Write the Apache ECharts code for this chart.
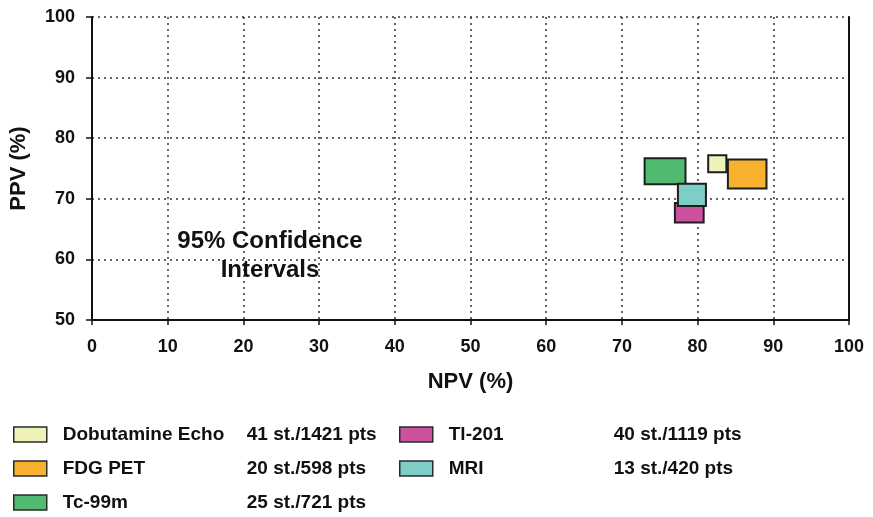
<!DOCTYPE html>
<html>
<head>
<meta charset="utf-8">
<title>PPV vs NPV – 95% Confidence Intervals</title>
<script src="https://cdn.jsdelivr.net/npm/echarts@6/dist/echarts.min.js"></script>
<style>
  html, body { margin: 0; padding: 0; background: #ffffff; }
  #chart { width: 873px; height: 517px; }
</style>
</head>
<body>
<div id="chart"></div>
<script>
// Imaging modalities and their 95% confidence interval boxes (NPV on x, PPV on y, in %)
const modalities = ['Dobutamine Echo', 'FDG PET', 'Tc-99m', 'Tl-201', 'MRI'];
const studyCounts = ['41 st./1421 pts', '20 st./598 pts', '25 st./721 pts', '40 st./1119 pts', '13 st./420 pts'];
const npvLow  = [81.4, 84.0, 73.0, 77.0, 77.4];
const npvHigh = [83.8, 89.1, 78.4, 80.8, 81.1];
const ppvLow  = [74.4, 71.7, 72.4, 66.1, 68.8];
const ppvHigh = [77.2, 76.5, 76.7, 69.3, 72.5];
const colors  = ['#eff2b6', '#f8b12e', '#52ba70', '#cd519f', '#7ecec8'];

const xTicks = [0, 10, 20, 30, 40, 50, 60, 70, 80, 90, 100];
const yTicks = [50, 60, 70, 80, 90, 100];

const noteLines = ['95% Confidence', 'Intervals'];

const FONT = '"Liberation Sans", Arial, sans-serif';
const statsOf = {};
modalities.forEach((m, i) => { statsOf[m] = studyCounts[i]; });

const chart = echarts.init(document.getElementById('chart'), null, { renderer: 'canvas' });

// One custom series per modality: a filled rectangle spanning the CI on both axes
const series = modalities.map((name, i) => ({
  name: name,
  type: 'custom',
  coordinateSystem: 'cartesian2d',
  itemStyle: { color: colors[i], borderColor: '#1e1e1e', borderWidth: 2 },
  encode: { x: [0, 1], y: [2, 3] },
  data: [[npvLow[i], npvHigh[i], ppvLow[i], ppvHigh[i]]],
  renderItem: function (params, api) {
    const p0 = api.coord([api.value(0), api.value(3)]);
    const p1 = api.coord([api.value(1), api.value(2)]);
    return {
      type: 'rect',
      shape: { x: p0[0], y: p0[1], width: p1[0] - p0[0], height: p1[1] - p0[1] },
      style: { fill: colors[i], stroke: '#1e1e1e', lineWidth: 2 }
    };
  },
  z: 10 + i
}));

const legendText = {
  fontFamily: FONT,
  fontWeight: 'bold',
  fontSize: 19,
  color: '#111'
};

function makeLegend(names, left, nameWidth) {
  return {
    data: names,
    orient: 'vertical',
    left: left,
    top: 425,
    height: 92,
    padding: 0,
    itemWidth: 33,
    itemHeight: 15,
    itemGap: 15,
    icon: 'rect',
    selectedMode: false,
    itemStyle: { borderColor: '#2a2a2a', borderWidth: 1.5 },
    formatter: function (name) {
      return '{g|}{n|' + name + '}{s|' + statsOf[name] + '}';
    },
    textStyle: {
      ...legendText,
      rich: {
        g: { width: 11 },
        n: { ...legendText, width: nameWidth },
        s: { ...legendText }
      }
    }
  };
}

const option = {
  backgroundColor: '#ffffff',
  animation: false,
  textStyle: { fontFamily: FONT },
  grid: { left: 91, right: 24, top: 17, bottom: 197, containLabel: false },
  legend: [
    makeLegend(modalities.slice(0, 3), 13, 184),
    makeLegend(modalities.slice(3), 399, 165)
  ],
  xAxis: {
    type: 'value',
    min: xTicks[0],
    max: xTicks[xTicks.length - 1],
    interval: xTicks[1] - xTicks[0],
    name: 'NPV (%)',
    nameLocation: 'middle',
    nameGap: 51,
    nameTextStyle: { fontFamily: FONT, fontWeight: 'bold', fontSize: 22, color: '#111' },
    axisLine: { show: true, onZero: false, lineStyle: { color: '#111', width: 2 } },
    axisTick: { show: true, length: 5, lineStyle: { color: '#111', width: 1.5 } },
    axisLabel: { margin: 18, fontFamily: FONT, fontWeight: 'bold', fontSize: 18, color: '#111' },
    splitLine: { show: true, lineStyle: { color: '#333', width: 1.5, type: [2, 4] } }
  },
  yAxis: [
    {
      type: 'value',
      min: yTicks[0],
      max: yTicks[yTicks.length - 1],
      interval: yTicks[1] - yTicks[0],
      name: 'PPV (%)',
      nameLocation: 'middle',
      nameRotate: 90,
      nameGap: 62,
      nameTextStyle: { fontFamily: FONT, fontWeight: 'bold', fontSize: 22, color: '#111' },
      axisLine: { show: true, onZero: false, lineStyle: { color: '#111', width: 2 } },
      axisTick: { show: true, length: 6, lineStyle: { color: '#111', width: 1.5 } },
      axisLabel: { margin: 17, fontFamily: FONT, fontWeight: 'bold', fontSize: 18, color: '#111' },
      splitLine: { show: true, lineStyle: { color: '#333', width: 1.5, type: [2, 4] } }
    },
    {
      // plain right-hand frame line at NPV = 100
      type: 'value',
      position: 'right',
      min: yTicks[0],
      max: yTicks[yTicks.length - 1],
      interval: yTicks[1] - yTicks[0],
      axisLine: { show: true, onZero: false, lineStyle: { color: '#111', width: 2 } },
      axisTick: { show: false },
      axisLabel: { show: false },
      splitLine: { show: false }
    }
  ],
  // two-line note inside the plot, each line centred on the same x
  graphic: noteLines.map((line, k) => ({
    type: 'text',
    x: 270,
    y: 229 + k * 29,
    z: 100,
    style: {
      text: line,
      align: 'center',
      verticalAlign: 'top',
      fontFamily: FONT,
      fontWeight: 'bold',
      fontSize: 24,
      fill: '#111'
    }
  })),
  series: series
};

chart.setOption(option);
</script>
</body>
</html>
